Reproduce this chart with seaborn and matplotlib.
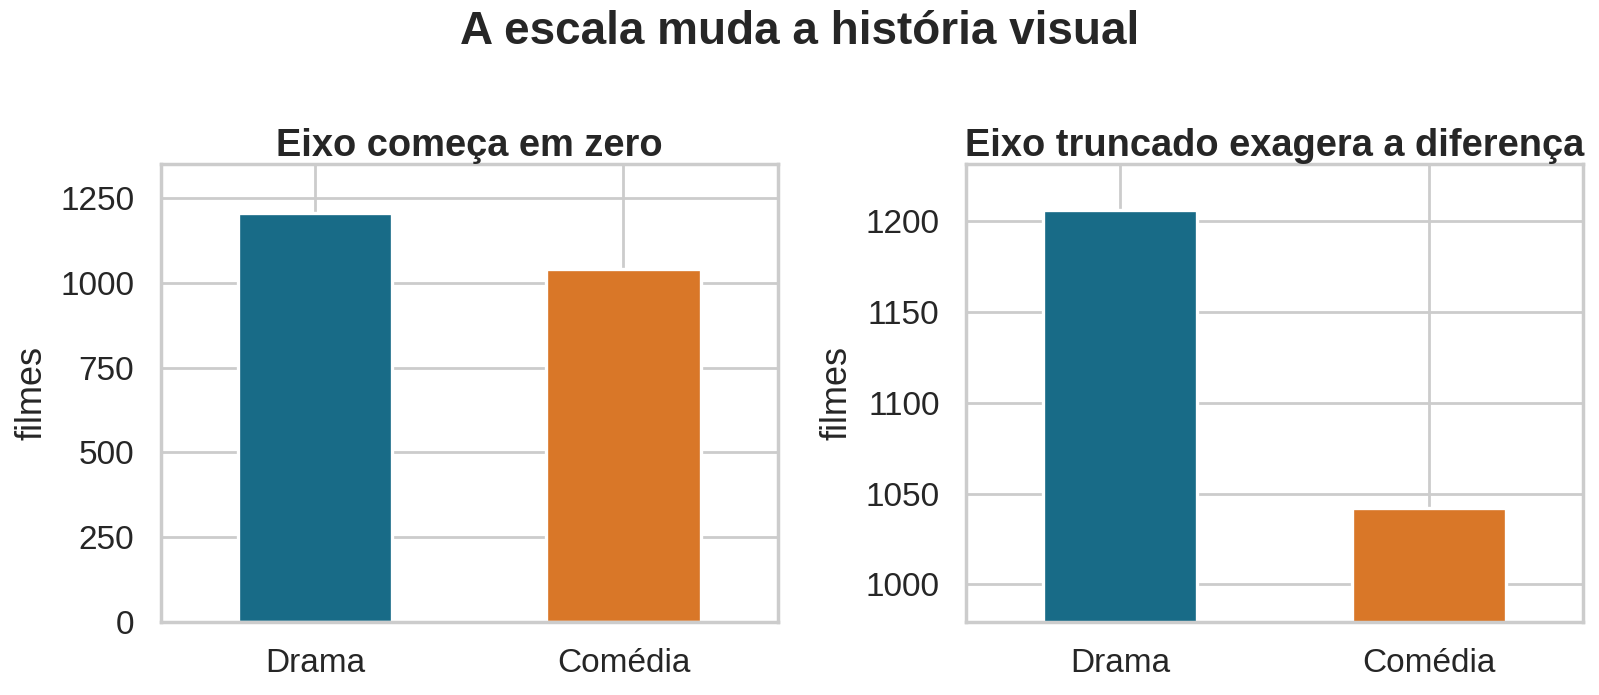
import pandas as pd
import seaborn as sns
import matplotlib.pyplot as plt

# dados
generos = ["Drama", "Comédia"]
filmes = [1206, 1042]
cores = ["#186b87", "#d97728"]

df = pd.DataFrame({"genero": generos, "filmes": filmes})

sns.set_theme(style="whitegrid", context="notebook")
plt.rcParams["font.family"] = ["Liberation Sans", "DejaVu Sans"]

fig, axes = plt.subplots(1, 2, figsize=(7.995, 3.475), dpi=200)
fig.subplots_adjust(left=0.1005, right=0.990, bottom=0.1055, top=0.7636, wspace=0.305)

titulos = ["Eixo começa em zero", "Eixo truncado exagera a diferença"]

for ax, titulo in zip(axes, titulos):
    sns.barplot(data=df, x="genero", y="filmes", hue="genero", palette=cores,
                saturation=1, width=0.5, edgecolor="white", linewidth=1.2,
                legend=False, ax=ax)
    ax.set_title(titulo, fontsize=13.7, fontweight="bold", pad=3)
    ax.set_xlabel("")
    ax.set_ylabel("filmes", fontsize=13)
    ax.tick_params(axis="both", labelsize=12)
    ax.set_xlim(-0.5, 1.5)
    # seaborn desliga a grade vertical nos categoricos
    ax.xaxis.grid(True)
    ax.set_axisbelow(True)

# eixo a partir de zero
axes[0].set_ylim(0, max(filmes) * 1.12)
axes[0].set_yticks([0, 250, 500, 750, 1000, 1250])

# eixo truncado
axes[1].set_ylim(min(filmes) * 0.94, max(filmes) * 1.021)
axes[1].set_yticks([1000, 1050, 1100, 1150, 1200])

fig.suptitle("A escala muda a história visual", fontsize=16.5, fontweight="bold",
             x=0.50, y=0.985, va="top")

plt.savefig("out.png", dpi=200)
